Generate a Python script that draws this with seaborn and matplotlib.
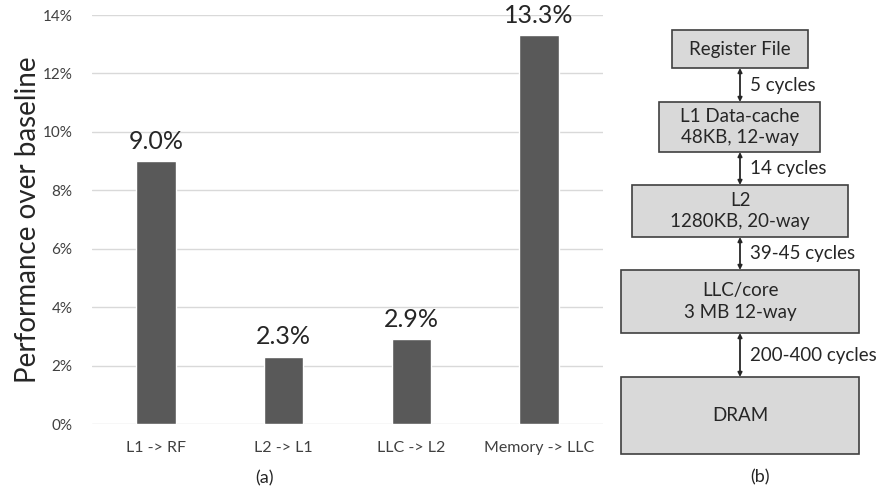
import matplotlib
matplotlib.use('Agg')
import matplotlib.pyplot as plt
import seaborn as sns
from matplotlib.patches import Rectangle
from matplotlib.ticker import PercentFormatter

# panel (a) data
categories = ['L1 -> RF', 'L2 -> L1', 'LLC -> L2', 'Memory -> LLC']
speedup = [9.0, 2.3, 2.9, 13.3]
yticks = [0, 2, 4, 6, 8, 10, 12, 14]

# panel (b) memory hierarchy
levels = ['Register File', 'L1 Data-cache\n48KB, 12-way', 'L2\n1280KB, 20-way',
          'LLC/core\n3 MB 12-way', 'DRAM']
latencies = ['5 cycles', '14 cycles', '39-45 cycles', '200-400 cycles']

sns.set_theme(style='white')
plt.rcParams['font.family'] = ['Lato', 'DejaVu Sans']

W, H = 889, 488
fig = plt.figure(figsize=(W / 100, H / 100), dpi=100)

# ---- (a) bar chart ----
ax = fig.add_axes([92 / W, (H - 424) / H, 511 / W, 409 / H])
sns.barplot(x=categories, y=speedup, color='#595959', saturation=1, width=0.31, ax=ax)
ax.set_ylim(0, 14)
ax.set_yticks(yticks)
ax.yaxis.set_major_formatter(PercentFormatter(decimals=0))
ax.grid(axis='y', color='#d9d9d9', lw=1)
ax.set_axisbelow(True)
sns.despine(ax=ax, left=True, bottom=True)
ax.tick_params(axis='both', length=0)
ax.tick_params(axis='x', labelsize=11.5, pad=12)
ax.tick_params(axis='y', labelsize=11, pad=14)
for lab in ax.get_xticklabels() + ax.get_yticklabels():
    lab.set_color('#404040')
ax.bar_label(ax.containers[0], fmt='%.1f%%', fontsize=18, color='#262626', padding=6)
ax.set_ylabel('Performance over baseline', fontsize=20, color='#262626', labelpad=1)
ax.set_xlabel('')

# ---- (b) hierarchy diagram (pixel coordinates) ----
dx = fig.add_axes([0, 0, 1, 1], zorder=-1)
dx.set_xlim(0, W)
dx.set_ylim(H, 0)
dx.axis('off')

boxes = [(672, 30, 136, 38), (659, 102, 161, 50), (632, 185, 216, 52),
         (621, 270, 238, 63), (621, 377, 238, 77)]
arrow_x = 740
for (x, y, w, h), name in zip(boxes, levels):
    dx.add_patch(Rectangle((x, y), w, h, facecolor='#d9d9d9', edgecolor='#404040', lw=1.2))
    dx.text(x + w / 2, y + h / 2, name, ha='center', va='center', fontsize=13.5,
            color='#262626', linespacing=1.3)

for i, lat in enumerate(latencies):
    top = boxes[i][1] + boxes[i][3]
    bot = boxes[i + 1][1]
    dx.annotate('', xy=(arrow_x, top), xytext=(arrow_x, bot),
                arrowprops=dict(arrowstyle='<|-|>', color='#262626', lw=1.3,
                                mutation_scale=6, shrinkA=0, shrinkB=0))
    dx.text(arrow_x + 10, (top + bot) / 2, lat, ha='left', va='center', fontsize=13.5,
            color='#262626')

dx.text(265, 478, '(a)', ha='center', va='center', fontsize=13, color='#262626')
dx.text(760, 477, '(b)', ha='center', va='center', fontsize=13, color='#262626')

fig.savefig('out.png', dpi=100)
